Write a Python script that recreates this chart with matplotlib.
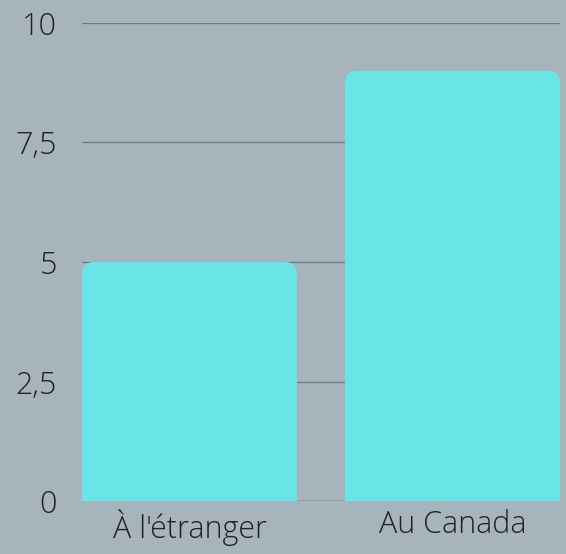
import numpy as np
import matplotlib
matplotlib.use("Agg")
import matplotlib.pyplot as plt
from matplotlib.patches import FancyBboxPatch

# data
categories = ["À l'étranger", "Au Canada"]
values = [5, 9]
yticks = [0, 2.5, 5, 7.5, 10]
ytick_labels = ["0", "2,5", "5", "7,5", "10"]

bg = "#a8b4bb"
bar_color = "#69e5e8"
text_color = "#1f2326"

plt.rcParams['font.family'] = ['Open Sans', 'DejaVu Sans']

fig = plt.figure(figsize=(5.66, 5.54), dpi=100, facecolor=bg)
ax = fig.add_axes([82/566, 53/554, 478/566, 478/554])
ax.set_facecolor(bg)

w = 0.8175
x = np.arange(len(categories))
bars = ax.bar(x, values, width=w, color=bar_color, zorder=3)

ax.set_xlim(-w/2, len(categories) - 1 + w/2)
ax.set_ylim(0, 10)

# swap the plain bars for ones with rounded top corners
rx = 0.0456
asp = 5.5
for b in bars:
    x0, h = b.get_x(), b.get_height()
    b.set_visible(False)
    p = FancyBboxPatch((x0, -1), b.get_width(), h + 1,
                       boxstyle="round,pad=0,rounding_size=%f" % rx,
                       mutation_aspect=asp, fc=bar_color, ec="none", zorder=3)
    ax.add_patch(p)

ax.set_yticks(yticks)
ax.set_yticklabels(ytick_labels)
ax.set_xticks(x)
ax.set_xticklabels(categories)
ax.tick_params(axis='y', length=0, pad=18, labelsize=22, labelcolor=text_color)
ax.tick_params(axis='x', length=0, pad=6, labelsize=22, labelcolor=text_color)
for lab in ax.get_xticklabels() + ax.get_yticklabels():
    lab.set_fontweight('light')

for y in yticks[1:]:
    ax.axhline(y, color="#6d7a82", lw=0.9, zorder=1)
ax.axhline(0, color="#3f4a52", lw=1.0, zorder=2)

for s in ax.spines.values():
    s.set_visible(False)

fig.savefig("out.png", dpi=100, facecolor=bg)
